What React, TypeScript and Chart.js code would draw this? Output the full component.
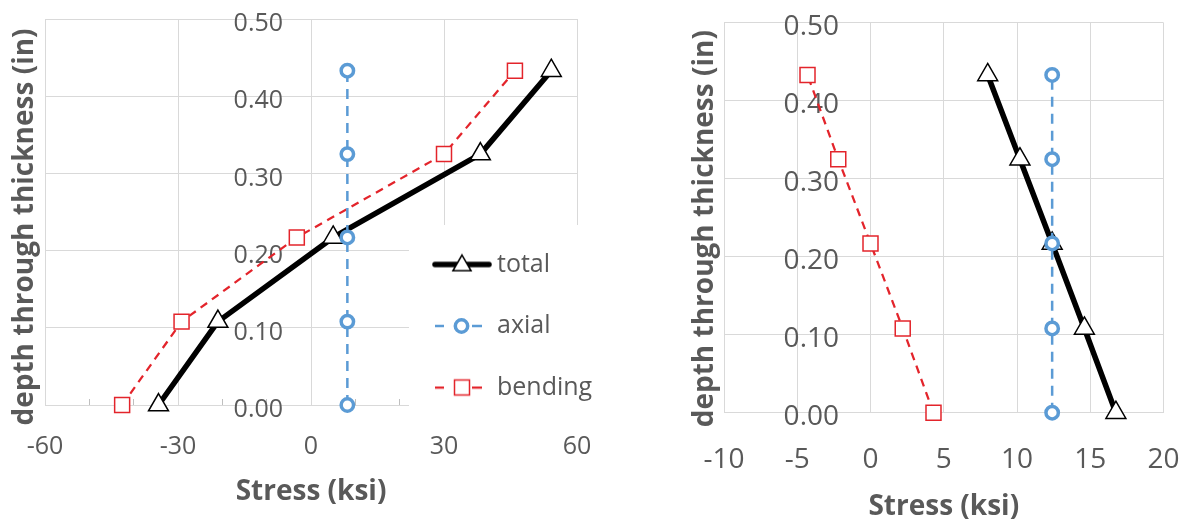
import React, { useEffect, useRef } from 'react';
import { Chart, registerables } from 'chart.js';

Chart.register(...registerables);

// ---------------- data ----------------
const DEPTH = [0, 0.108, 0.217, 0.325, 0.433];
const SERIES_NAMES = ['total', 'axial', 'bending'];

const LEFT_TOTAL = [-34.4, -21.0, 5.0, 38.2, 54.2];
const LEFT_AXIAL = [8.2, 8.2, 8.2, 8.2, 8.2];
const LEFT_BENDING = [-42.6, -29.2, -3.2, 30.0, 46.0];

const RIGHT_TOTAL = [16.75, 14.6, 12.4, 10.2, 8.0];
const RIGHT_AXIAL = [12.4, 12.4, 12.4, 12.4, 12.4];
const RIGHT_BENDING = [4.3, 2.2, 0.0, -2.2, -4.3];

const LEFT_X_LABELS = [-60, -30, 0, 30, 60];
const LEFT_X_MINOR_STEP = 10;
const RIGHT_X_LABELS = [-10, -5, 0, 5, 10, 15, 20];
const Y_LABELS = ['0.00', '0.10', '0.20', '0.30', '0.40', '0.50'];

const X_TITLE = 'Stress (ksi)';
const Y_TITLE = 'depth through thickness (in)';

// ---------------- styles ----------------
const FONT = "'Open Sans', sans-serif";
const TEXT = '#595959';
const GRID = '#D9D9D9';
const TOTAL_COLOR = '#000000';
const AXIAL_COLOR = '#5B9BD5';
const BENDING_COLOR = '#E3242B';
const NONE = 'rgba(0,0,0,0)';

function pts(xs: number[], ys: number[]) {
  return xs.map((x, i) => ({ x, y: ys[i] }));
}

function triPath(ctx: CanvasRenderingContext2D, cx: number, cy: number, r: number) {
  ctx.beginPath();
  ctx.moveTo(cx, cy - r);
  ctx.lineTo(cx + r * Math.sin((2 * Math.PI) / 3), cy - r * Math.cos((2 * Math.PI) / 3));
  ctx.lineTo(cx + r * Math.sin((4 * Math.PI) / 3), cy - r * Math.cos((4 * Math.PI) / 3));
  ctx.closePath();
}

function makeSymbol(kind: string): HTMLCanvasElement {
  const c = document.createElement('canvas');
  c.width = 60;
  c.height = 26;
  const ctx = c.getContext('2d') as CanvasRenderingContext2D;
  const cy = 13;
  if (kind === 'total') {
    ctx.strokeStyle = TOTAL_COLOR;
    ctx.lineWidth = 5.5;
    ctx.lineCap = 'round';
    ctx.beginPath();
    ctx.moveTo(3, cy);
    ctx.lineTo(57, cy);
    ctx.stroke();
    triPath(ctx, 30, cy + 1, 10.5);
    ctx.fillStyle = '#fff';
    ctx.fill();
    ctx.lineWidth = 1.5;
    ctx.lineJoin = 'miter';
    ctx.stroke();
  } else {
    const col = kind === 'axial' ? AXIAL_COLOR : BENDING_COLOR;
    ctx.strokeStyle = col;
    ctx.lineWidth = kind === 'axial' ? 2.5 : 2.25;
    ctx.beginPath();
    ctx.moveTo(3, cy);
    ctx.lineTo(12, cy);
    ctx.moveTo(40, cy);
    ctx.lineTo(50, cy);
    ctx.stroke();
    ctx.fillStyle = '#fff';
    if (kind === 'axial') {
      ctx.lineWidth = 3.5;
      ctx.beginPath();
      ctx.arc(29.5, cy, 6.2, 0, Math.PI * 2);
      ctx.fill();
      ctx.stroke();
    } else {
      ctx.lineWidth = 1.5;
      ctx.beginPath();
      ctx.rect(22.5, cy - 7.5, 15, 15);
      ctx.fill();
      ctx.stroke();
    }
  }
  return c;
}

function buildDatasets(total: number[], axial: number[], bending: number[]) {
  // drawing order: first dataset on top
  return [
    {
      label: SERIES_NAMES[1],
      data: pts(axial, DEPTH),
      xAxisID: 'x',
      yAxisID: 'y',
      clip: false,
      borderColor: AXIAL_COLOR,
      borderWidth: 2.5,
      borderDash: [10, 7],
      pointStyle: 'circle',
      pointRadius: 6.2,
      pointHoverRadius: 6.2,
      pointBorderWidth: 3.5,
      pointBackgroundColor: '#ffffff',
      pointBorderColor: AXIAL_COLOR,
      fill: false,
      tension: 0,
    },
    {
      label: SERIES_NAMES[2],
      data: pts(bending, DEPTH),
      xAxisID: 'x',
      yAxisID: 'y',
      clip: false,
      borderColor: BENDING_COLOR,
      borderWidth: 2.25,
      borderDash: [8, 6],
      pointStyle: 'rect',
      pointRadius: 10.6,
      pointHoverRadius: 10.6,
      pointBorderWidth: 1.5,
      pointBackgroundColor: '#ffffff',
      pointBorderColor: BENDING_COLOR,
      fill: false,
      tension: 0,
    },
    {
      label: SERIES_NAMES[0],
      data: pts(total, DEPTH),
      xAxisID: 'x',
      yAxisID: 'y',
      clip: false,
      borderColor: TOTAL_COLOR,
      borderWidth: 5.5,
      borderJoinStyle: 'round',
      pointStyle: 'triangle',
      pointRadius: 11.5,
      pointHoverRadius: 11.5,
      pointBorderWidth: 1.5,
      pointBackgroundColor: '#ffffff',
      pointBorderColor: TOTAL_COLOR,
      fill: false,
      tension: 0,
    },
  ];
}

interface SideCfg {
  total: number[];
  axial: number[];
  bending: number[];
  xLabels: number[];
  minorStep: number | null;
  tickSize: number;
  titleSize: number;
  padding: { left: number; right: number; top: number; bottom: number };
  xTickGap: number;
  xTitlePadding: { top: number; bottom: number };
  yLabelAnchor: number; // x value (ksi) where the depth labels are right-aligned
  yLabelOffset: number;
  yTitlePadding: { top: number; bottom: number };
  yTitleShift: number;
  legend: null | { left: number; top: number; width: number; height: number; mask: number[] };
}

function makePlacer(cfg: SideCfg) {
  return {
    id: 'placer',
    afterLayout(chart: any) {
      const ts = chart.scales.yTitle;
      if (ts) {
        ts.top += cfg.yTitleShift;
        ts.bottom += cfg.yTitleShift;
      }
      const lg = chart.legend;
      if (lg && cfg.legend) {
        const L = cfg.legend;
        lg.left = L.left;
        lg.top = L.top;
        lg.width = L.width;
        lg.height = L.height;
        lg.right = L.left + L.width;
        lg.bottom = L.top + L.height;
        if (!lg.__masked) {
          const orig = lg.draw.bind(lg);
          lg.draw = function (area: any) {
            const ctx = chart.ctx;
            ctx.save();
            ctx.fillStyle = '#ffffff';
            ctx.fillRect(L.mask[0], L.mask[1], L.mask[2], L.mask[3]);
            ctx.restore();
            orig(area);
          };
          lg.__masked = true;
        }
      }
    },
  };
}

function buildConfig(cfg: SideCfg): any {
  const xMin = cfg.xLabels[0];
  const xMax = cfg.xLabels[cfg.xLabels.length - 1];
  const xStep = cfg.xLabels[1] - cfg.xLabels[0];
  const yMin = Number(Y_LABELS[0]);
  const yMax = Number(Y_LABELS[Y_LABELS.length - 1]);
  const yStep = Number(Y_LABELS[1]) - Number(Y_LABELS[0]);
  const isMajor = (v: number) => cfg.xLabels.some((l) => Math.abs(l - v) < 1e-9);
  const symbols: Record<string, HTMLCanvasElement> = {};
  SERIES_NAMES.forEach((n) => (symbols[n] = makeSymbol(n)));

  const scales: any = {
    x: {
      type: 'linear',
      position: 'bottom',
      min: xMin,
      max: xMax,
      ticks: {
        stepSize: xStep,
        autoSkip: false,
        maxRotation: 0,
        minRotation: 0,
        padding: 0,
        color: TEXT,
        font: { family: FONT, size: cfg.tickSize },
        callback: (v: number) => String(v),
      },
      grid: {
        color: GRID,
        lineWidth: 1,
        drawTicks: true,
        tickLength: cfg.xTickGap,
        tickColor: NONE,
      },
      border: { display: false },
      title: {
        display: true,
        text: X_TITLE,
        color: TEXT,
        font: { family: FONT, size: cfg.titleSize, weight: 'bold' },
        padding: cfg.xTitlePadding,
      },
    },
    y: {
      type: 'linear',
      position: { x: cfg.yLabelAnchor },
      min: yMin,
      max: yMax,
      ticks: {
        stepSize: yStep,
        padding: 0,
        labelOffset: cfg.yLabelOffset,
        color: TEXT,
        font: { family: FONT, size: cfg.tickSize },
        callback: (v: number) => {
          const idx = Math.round((v - yMin) / yStep);
          return Y_LABELS[idx] ?? Number(v).toFixed(2);
        },
      },
      grid: { color: GRID, lineWidth: 1, drawTicks: false },
      border: { display: false },
    },
    yTitle: {
      type: 'linear',
      position: 'left',
      display: true,
      ticks: { display: false },
      grid: { display: false, drawTicks: false },
      border: { display: false },
      title: {
        display: true,
        text: Y_TITLE,
        color: TEXT,
        font: { family: FONT, size: cfg.titleSize, weight: 'bold' },
        padding: cfg.yTitlePadding,
      },
    },
  };

  if (cfg.minorStep) {
    scales.xMinor = {
      type: 'linear',
      position: { y: 0 },
      min: xMin,
      max: xMax,
      ticks: { display: false, stepSize: cfg.minorStep },
      grid: {
        drawOnChartArea: false,
        drawTicks: true,
        tickLength: -6,
        tickWidth: 1,
        color: NONE,
        tickColor: (c: any) => (isMajor(c.tick.value) ? NONE : '#BFBFBF'),
      },
      border: { display: false },
    };
  }

  return {
    type: 'line',
    data: { datasets: buildDatasets(cfg.total, cfg.axial, cfg.bending) },
    options: {
      responsive: false,
      animation: false,
      events: [],
      layout: { padding: cfg.padding },
      scales,
      plugins: {
        tooltip: { enabled: false },
        legend: cfg.legend
          ? {
              display: true,
              position: 'chartArea',
              align: 'start',
              labels: {
                usePointStyle: true,
                pointStyleWidth: 45,
                padding: 36.5,
                color: TEXT,
                font: { family: FONT, size: 25 },
                generateLabels: () =>
                  SERIES_NAMES.map((n, i) => ({
                    text: n,
                    fontColor: TEXT,
                    pointStyle: symbols[n],
                    lineWidth: 0,
                    fillStyle: NONE,
                    strokeStyle: NONE,
                    hidden: false,
                    datasetIndex: i,
                  })),
              },
            }
          : { display: false },
      },
    },
    plugins: [makePlacer(cfg)],
  };
}

const LEFT_CFG: SideCfg = {
  total: LEFT_TOTAL,
  axial: LEFT_AXIAL,
  bending: LEFT_BENDING,
  xLabels: LEFT_X_LABELS,
  minorStep: LEFT_X_MINOR_STEP,
  tickSize: 25,
  titleSize: 28,
  padding: { left: 0, right: 23, top: 19, bottom: 0 },
  xTickGap: 27,
  xTitlePadding: { top: 13.2, bottom: 23.2 },
  yLabelAnchor: -6.3,
  yLabelOffset: 5,
  yTitlePadding: { top: 8.2, bottom: 3.2 },
  yTitleShift: 15,
  legend: { left: 403, top: 215.5, width: 197, height: 300, mask: [409, 225, 191, 193] },
};

const RIGHT_CFG: SideCfg = {
  total: RIGHT_TOTAL,
  axial: RIGHT_AXIAL,
  bending: RIGHT_BENDING,
  xLabels: RIGHT_X_LABELS,
  minorStep: null,
  tickSize: 28,
  titleSize: 28,
  padding: { left: 80.2, right: 22.5, top: 22.7, bottom: 0 },
  xTickGap: 30.5,
  xTitlePadding: { top: 13.4, bottom: 8.2 },
  yLabelAnchor: -2.15,
  yLabelOffset: 4.5,
  yTitlePadding: { top: 8, bottom: 2.2 },
  yTitleShift: 11,
  legend: null,
};

export default function App() {
  const leftRef = useRef<HTMLCanvasElement | null>(null);
  const rightRef = useRef<HTMLCanvasElement | null>(null);

  useEffect(() => {
    Chart.defaults.font.family = FONT;
    const charts: Chart[] = [];
    if (leftRef.current) charts.push(new Chart(leftRef.current, buildConfig(LEFT_CFG)));
    if (rightRef.current) charts.push(new Chart(rightRef.current, buildConfig(RIGHT_CFG)));
    return () => charts.forEach((c) => c.destroy());
  }, []);

  return (
    <div style={{ position: 'absolute', left: 0, top: 0, width: 1186, height: 532, background: '#ffffff' }}>
      <canvas ref={leftRef} width={600} height={532} style={{ position: 'absolute', left: 0, top: 0 }} />
      <canvas ref={rightRef} width={586} height={532} style={{ position: 'absolute', left: 600, top: 0 }} />
    </div>
  );
}
